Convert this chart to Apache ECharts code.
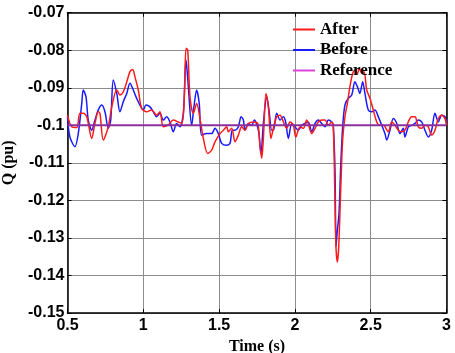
<!DOCTYPE html>
<html>
<head>
<meta charset="utf-8">
<script src="https://cdn.jsdelivr.net/npm/echarts@6/dist/echarts.min.js"></script>
<style>
  html, body { margin: 0; padding: 0; background: #fff; }
  #chart { width: 455px; height: 353px; }
</style>
</head>
<body>
<div id="chart"></div>
<script>
// Reactive power response Q (pu) over time (s)
const afterTime = [0.5, 0.528, 0.561, 0.582, 0.604, 0.627, 0.66, 0.681, 0.703, 0.714, 0.736, 0.769, 0.792, 0.825, 0.846, 0.868, 0.891, 0.912, 0.93, 0.945, 0.967, 0.989, 1.022, 1.055, 1.088, 1.11, 1.132, 1.165, 1.198, 1.231, 1.253, 1.268, 1.282, 1.293, 1.308, 1.33, 1.352, 1.374, 1.396, 1.425, 1.451, 1.473, 1.506, 1.528, 1.55, 1.561, 1.583, 1.605, 1.627, 1.649, 1.671, 1.693, 1.726, 1.755, 1.77, 1.781, 1.792, 1.809, 1.825, 1.842, 1.858, 1.88, 1.902, 1.924, 1.946, 1.968, 1.99, 2.006, 2.034, 2.056, 2.078, 2.111, 2.133, 2.154, 2.179, 2.199, 2.22, 2.243, 2.253, 2.263, 2.271, 2.28, 2.289, 2.302, 2.315, 2.33, 2.346, 2.363, 2.381, 2.396, 2.412, 2.425, 2.441, 2.456, 2.474, 2.495, 2.517, 2.54, 2.561, 2.583, 2.616, 2.639, 2.66, 2.682, 2.705, 2.726, 2.748, 2.77, 2.792, 2.814, 2.836, 2.858, 2.88, 2.902, 2.924, 2.946, 2.968, 2.99, 3.0];
const afterQ = [-0.0973, -0.1004, -0.1006, -0.0968, -0.0968, -0.0977, -0.1035, -0.0995, -0.0964, -0.0968, -0.1039, -0.1004, -0.0951, -0.0906, -0.0919, -0.0911, -0.0884, -0.0857, -0.0851, -0.0871, -0.0906, -0.0955, -0.0964, -0.0959, -0.0973, -0.0964, -0.1004, -0.0999, -0.0986, -0.0991, -0.0995, -0.0951, -0.0795, -0.0799, -0.0924, -0.0968, -0.0942, -0.0982, -0.1035, -0.1075, -0.1066, -0.1044, -0.1022, -0.1013, -0.1004, -0.1017, -0.1008, -0.1044, -0.1026, -0.1004, -0.1013, -0.0995, -0.0991, -0.0995, -0.1057, -0.1088, -0.1035, -0.0915, -0.0951, -0.1035, -0.1008, -0.0977, -0.0973, -0.0991, -0.1008, -0.0991, -0.1, -0.1031, -0.1004, -0.1008, -0.0986, -0.1022, -0.1008, -0.0991, -0.0986, -0.0986, -0.1, -0.0991, -0.1, -0.1173, -0.1324, -0.1364, -0.1324, -0.1173, -0.1039, -0.0977, -0.0942, -0.0897, -0.0862, -0.0853, -0.0862, -0.0848, -0.0862, -0.0857, -0.0906, -0.0928, -0.0959, -0.0991, -0.1, -0.1, -0.1017, -0.0991, -0.1, -0.1013, -0.1017, -0.1013, -0.0991, -0.0977, -0.0977, -0.1004, -0.1008, -0.1, -0.1004, -0.1026, -0.1013, -0.0982, -0.0973, -0.0982, -0.1];

const beforeTime = [0.5, 0.516, 0.549, 0.571, 0.594, 0.604, 0.622, 0.637, 0.66, 0.681, 0.703, 0.726, 0.747, 0.769, 0.785, 0.802, 0.825, 0.846, 0.868, 0.891, 0.912, 0.934, 0.956, 0.978, 1.0, 1.018, 1.044, 1.066, 1.088, 1.11, 1.132, 1.154, 1.176, 1.198, 1.22, 1.242, 1.264, 1.282, 1.297, 1.319, 1.334, 1.352, 1.369, 1.385, 1.418, 1.451, 1.473, 1.495, 1.517, 1.55, 1.572, 1.587, 1.605, 1.627, 1.645, 1.66, 1.671, 1.693, 1.715, 1.732, 1.759, 1.776, 1.792, 1.814, 1.829, 1.847, 1.858, 1.88, 1.902, 1.924, 1.939, 1.957, 1.979, 2.0, 2.022, 2.045, 2.066, 2.088, 2.111, 2.133, 2.154, 2.177, 2.199, 2.22, 2.243, 2.253, 2.265, 2.271, 2.28, 2.291, 2.302, 2.315, 2.33, 2.352, 2.375, 2.396, 2.412, 2.429, 2.447, 2.462, 2.484, 2.507, 2.528, 2.55, 2.573, 2.594, 2.606, 2.627, 2.649, 2.672, 2.693, 2.715, 2.726, 2.748, 2.77, 2.792, 2.814, 2.836, 2.858, 2.88, 2.902, 2.924, 2.946, 2.968, 2.99, 3.0];
const beforeQ = [-0.0977, -0.1031, -0.1057, -0.1022, -0.0942, -0.0906, -0.0924, -0.0986, -0.1013, -0.0986, -0.0959, -0.0946, -0.0964, -0.1008, -0.0986, -0.0879, -0.0915, -0.0964, -0.0937, -0.0915, -0.0888, -0.0906, -0.0928, -0.0946, -0.0959, -0.0946, -0.0951, -0.0964, -0.0977, -0.0968, -0.0986, -0.0977, -0.0991, -0.1017, -0.0995, -0.1004, -0.0968, -0.0826, -0.0897, -0.1, -0.0951, -0.0906, -0.0942, -0.1026, -0.1022, -0.1022, -0.1008, -0.1022, -0.1048, -0.1053, -0.1048, -0.1013, -0.1013, -0.1004, -0.0977, -0.0986, -0.1013, -0.0995, -0.1, -0.0986, -0.1013, -0.1075, -0.0995, -0.0924, -0.0959, -0.1013, -0.1013, -0.0968, -0.0986, -0.0977, -0.0991, -0.1035, -0.0995, -0.1004, -0.1013, -0.1, -0.0995, -0.0991, -0.1017, -0.0995, -0.0986, -0.0995, -0.1004, -0.0986, -0.0991, -0.1, -0.1128, -0.1324, -0.128, -0.1235, -0.1111, -0.1004, -0.0946, -0.0928, -0.0919, -0.0884, -0.0897, -0.0915, -0.0884, -0.0915, -0.0959, -0.0964, -0.0959, -0.0977, -0.1, -0.1022, -0.1039, -0.1013, -0.0982, -0.0995, -0.1022, -0.1008, -0.1031, -0.1004, -0.1, -0.0995, -0.0986, -0.0991, -0.1013, -0.1031, -0.1013, -0.0968, -0.0991, -0.0973, -0.0977, -0.0995];

const referenceTime = [0.5, 3.0];
const referenceQ = [-0.1, -0.1];

const seriesNames = ['After', 'Before', 'Reference'];
const xRange = [0.5, 3.0];
const yRange = [-0.15, -0.07];

const zip = (t, v) => t.map((x, i) => [x, v[i]]);

const chart = echarts.init(document.getElementById('chart'), null, { renderer: 'canvas' });

const gridLine = { show: true, lineStyle: { color: '#8c8c8c', width: 1 } };
const axisLabelFont = { fontFamily: 'Liberation Sans, Arial, sans-serif', fontWeight: 'bold', fontSize: 16, color: '#000' };
const titleFont = { fontFamily: 'Liberation Serif, Times New Roman, serif', fontWeight: 'bold', fontSize: 16, color: '#000' };
const fmt = v => String(parseFloat(Number(v).toFixed(3)));
const frameAxisLine = { show: true, onZero: false, lineStyle: { color: '#000', width: 1.5 } };
const frameTick = { show: true, inside: true, length: 4, lineStyle: { color: '#000' } };

chart.setOption({
  animation: false,
  backgroundColor: '#fff',
  grid: { left: 67.5, right: 8.5, top: 12.7, bottom: 40, containLabel: false, outerBoundsMode: 'none' },
  legend: {
    orient: 'vertical',
    left: 293,
    top: 21,
    padding: 0,
    itemGap: 3.5,
    itemWidth: 22,
    itemHeight: 2,
    icon: 'rect',
    textStyle: { fontFamily: 'Liberation Serif, Times New Roman, serif', fontWeight: 'bold', fontSize: 17, color: '#000' },
    data: [
      { name: 'After', itemStyle: { color: '#ff1a1a' } },
      { name: 'Before', itemStyle: { color: '#1a1aff' } },
      { name: 'Reference', itemStyle: { color: '#dd44dd' } }
    ]
  },
  xAxis: [{
    type: 'value', min: xRange[0], max: xRange[1], interval: 0.5,
    name: 'Time (s)', nameLocation: 'middle', nameGap: 22, nameTextStyle: titleFont,
    axisLine: frameAxisLine, axisTick: frameTick,
    axisLabel: Object.assign({ margin: 5, formatter: fmt }, axisLabelFont),
    splitLine: gridLine
  }, {
    type: 'value', position: 'top', min: xRange[0], max: xRange[1], interval: 0.5,
    axisLine: frameAxisLine, axisTick: frameTick,
    axisLabel: { show: false }, splitLine: { show: false }
  }],
  yAxis: [{
    type: 'value', min: yRange[0], max: yRange[1], interval: 0.01,
    name: 'Q (pu)', nameLocation: 'middle', nameGap: 46, nameRotate: 90, nameTextStyle: titleFont,
    axisLine: frameAxisLine, axisTick: frameTick,
    axisLabel: Object.assign({ margin: 3, formatter: fmt }, axisLabelFont),
    splitLine: gridLine
  }, {
    type: 'value', position: 'right', min: yRange[0], max: yRange[1], interval: 0.01,
    axisLine: frameAxisLine, axisTick: frameTick,
    axisLabel: { show: false }, splitLine: { show: false }
  }],
  series: [
    {
      name: seriesNames[1], type: 'line', data: zip(beforeTime, beforeQ),
      symbol: 'none', smooth: 0.3, color: '#1a1aff',
      lineStyle: { color: '#1a1aff', width: 1.5 }, z: 2
    },
    {
      name: seriesNames[0], type: 'line', data: zip(afterTime, afterQ),
      symbol: 'none', smooth: 0.3, color: '#ff1a1a',
      lineStyle: { color: '#ff1a1a', width: 1.5 }, z: 3
    },
    {
      name: seriesNames[2], type: 'line', data: zip(referenceTime, referenceQ),
      symbol: 'none', color: '#dd44dd',
      lineStyle: { color: '#8a2f9c', width: 2 }, z: 4
    }
  ]
});
</script>
</body>
</html>
